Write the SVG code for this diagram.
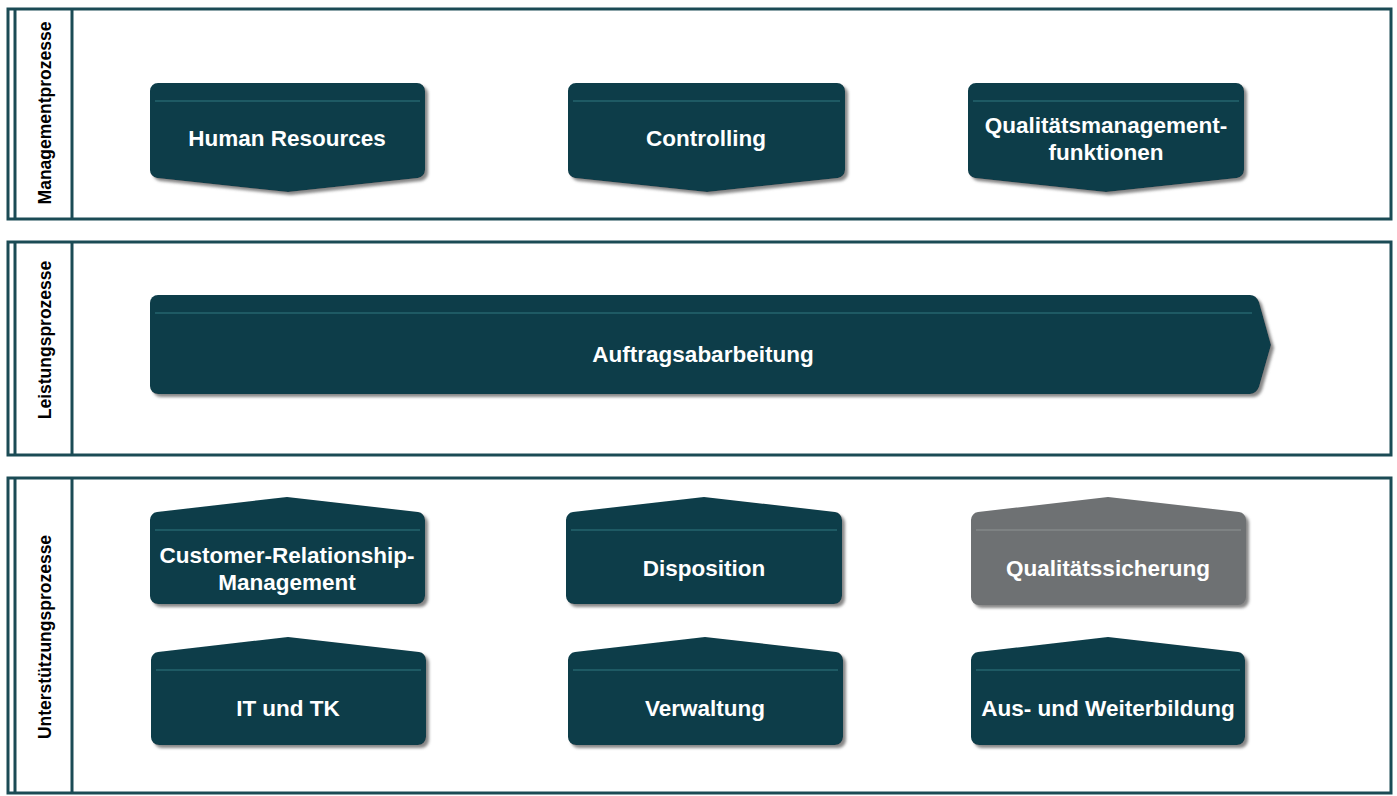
<svg xmlns="http://www.w3.org/2000/svg" width="1397" height="796" viewBox="0 0 1397 796">
  <defs>
    <filter id="shadow" x="-5%" y="-10%" width="115%" height="130%">
      <feDropShadow dx="3" dy="3" stdDeviation="1.5" flood-color="#7a7a7a" flood-opacity="0.9"/>
    </filter>
  </defs>
  <style>
    .frame { fill: none; stroke: #1b4b55; stroke-width: 3; }
    .lane-label { font-family: "Liberation Sans", Arial, sans-serif; font-weight: bold; font-size: 17.5px; fill: #000; text-anchor: middle; }
    .box { fill: #0b3d49; filter: url(#shadow); }
    .box.grey { fill: #6e7173; }
    .rule { stroke: #24646e; stroke-width: 1.5; }
    .rule.grey { stroke: #858889; }
    .label { font-family: "Liberation Sans", Arial, sans-serif; font-weight: bold; font-size: 22.5px; fill: #ffffff; text-anchor: middle; }
  </style>
  <rect width="1397" height="796" fill="#ffffff"/>

  <!-- swimlane frames -->
  <g id="lane-management">
    <rect class="frame" x="8" y="9" width="1383" height="210"/>
    <line class="frame" x1="15" y1="9" x2="15" y2="219"/>
    <line class="frame" x1="72" y1="9" x2="72" y2="219"/>
    <text class="lane-label" transform="translate(51,113) rotate(-90)">Managementprozesse</text>
  </g>
  <g id="lane-leistung">
    <rect class="frame" x="8" y="242" width="1383" height="213"/>
    <line class="frame" x1="15" y1="242" x2="15" y2="455"/>
    <line class="frame" x1="72" y1="242" x2="72" y2="455"/>
    <text class="lane-label" transform="translate(51,340) rotate(-90)">Leistungsprozesse</text>
  </g>
  <g id="lane-unterstuetzung">
    <rect class="frame" x="8" y="478" width="1383" height="315"/>
    <line class="frame" x1="15" y1="478" x2="15" y2="793"/>
    <line class="frame" x1="72" y1="478" x2="72" y2="793"/>
    <text class="lane-label" transform="translate(51,637) rotate(-90)">Unterstützungsprozesse</text>
  </g>

  <!-- management processes (pointing down) -->
  <g id="node-hr">
    <path class="box" d="M158,83 H417 A8,8 0 0 1 425,91 V170 A8,8 0 0 1 418,178 L288,192 L157,178 A8,8 0 0 1 150,170 V91 A8,8 0 0 1 158,83 Z"/>
    <line class="rule" x1="155" y1="101" x2="420" y2="101"/>
    <text class="label" x="287" y="146">Human Resources</text>
  </g>
  <g id="node-controlling">
    <path class="box" d="M576,83 H837 A8,8 0 0 1 845,91 V170 A8,8 0 0 1 838,178 L707,192 L575,178 A8,8 0 0 1 568,170 V91 A8,8 0 0 1 576,83 Z"/>
    <line class="rule" x1="573" y1="101" x2="840" y2="101"/>
    <text class="label" x="706" y="146">Controlling</text>
  </g>
  <g id="node-qm">
    <path class="box" d="M976,83 H1236 A8,8 0 0 1 1244,91 V170 A8,8 0 0 1 1237,178 L1106,192 L975,178 A8,8 0 0 1 968,170 V91 A8,8 0 0 1 976,83 Z"/>
    <line class="rule" x1="973" y1="101" x2="1239" y2="101"/>
    <text class="label" x="1106" y="133">Qualitätsmanagement-</text>
    <text class="label" x="1106" y="160">funktionen</text>
  </g>

  <!-- core process (pointing right) -->
  <g id="node-auftrag">
    <path class="box" d="M158,295 H1250 Q1256,295 1259,302 L1271,345 L1259,387 Q1256,394 1250,394 H158 A8,8 0 0 1 150,386 V303 A8,8 0 0 1 158,295 Z"/>
    <line class="rule" x1="155" y1="313" x2="1252" y2="313"/>
    <text class="label" x="703" y="362">Auftragsabarbeitung</text>
  </g>

  <!-- support processes (pointing up) -->
  <g id="node-crm">
    <path class="box" d="M157,512 L287,497 L418,512 A8,8 0 0 1 425,520 V596 A8,8 0 0 1 417,604 H158 A8,8 0 0 1 150,596 V520 A8,8 0 0 1 157,512 Z"/>
    <line class="rule" x1="155" y1="530" x2="420" y2="530"/>
    <text class="label" x="287" y="563">Customer-Relationship-</text>
    <text class="label" x="287" y="590">Management</text>
  </g>
  <g id="node-disposition">
    <path class="box" d="M573,512 L704,497 L835,512 A8,8 0 0 1 842,520 V596 A8,8 0 0 1 834,604 H574 A8,8 0 0 1 566,596 V520 A8,8 0 0 1 573,512 Z"/>
    <line class="rule" x1="571" y1="530" x2="837" y2="530"/>
    <text class="label" x="704" y="576">Disposition</text>
  </g>
  <g id="node-qs">
    <path class="box grey" d="M978,512 L1108,497 L1239,512 A8,8 0 0 1 1246,520 V597 A8,8 0 0 1 1238,605 H979 A8,8 0 0 1 971,597 V520 A8,8 0 0 1 978,512 Z"/>
    <line class="rule grey" x1="976" y1="530" x2="1241" y2="530"/>
    <text class="label" x="1108" y="576">Qualitätssicherung</text>
  </g>
  <g id="node-it">
    <path class="box" d="M158,652 L288,637 L419,652 A8,8 0 0 1 426,660 V737 A8,8 0 0 1 418,745 H159 A8,8 0 0 1 151,737 V660 A8,8 0 0 1 158,652 Z"/>
    <line class="rule" x1="156" y1="670" x2="421" y2="670"/>
    <text class="label" x="288" y="716">IT und TK</text>
  </g>
  <g id="node-verwaltung">
    <path class="box" d="M575,652 L705,637 L836,652 A8,8 0 0 1 843,660 V737 A8,8 0 0 1 835,745 H576 A8,8 0 0 1 568,737 V660 A8,8 0 0 1 575,652 Z"/>
    <line class="rule" x1="573" y1="670" x2="838" y2="670"/>
    <text class="label" x="705" y="716">Verwaltung</text>
  </g>
  <g id="node-ausbildung">
    <path class="box" d="M978,652 L1108,637 L1238,652 A8,8 0 0 1 1245,660 V737 A8,8 0 0 1 1237,745 H979 A8,8 0 0 1 971,737 V660 A8,8 0 0 1 978,652 Z"/>
    <line class="rule" x1="976" y1="670" x2="1240" y2="670"/>
    <text class="label" x="1108" y="716">Aus- und Weiterbildung</text>
  </g>

  <!-- no connectors between nodes -->
  <g id="connectors"/>
</svg>
